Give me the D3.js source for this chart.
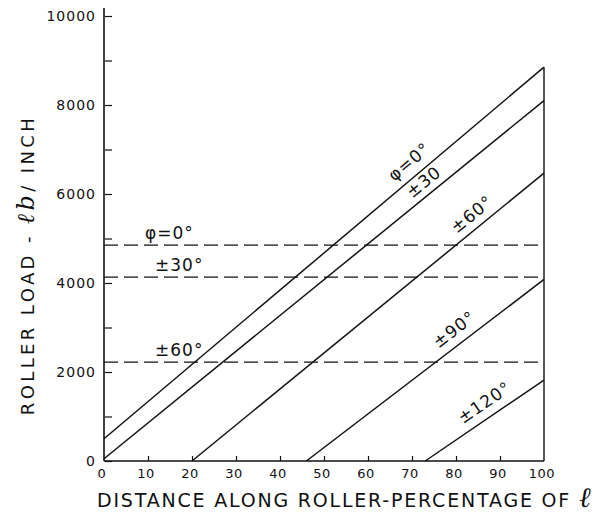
<!DOCTYPE html>
<html>
<head>
<meta charset="utf-8">
<script src="https://cdn.jsdelivr.net/npm/d3@7/dist/d3.min.js"></script>
<style>
  html, body { margin: 0; padding: 0; background: #fff; }
  svg { display: block; }
  text { font-family: "DejaVu Sans", "Liberation Sans", sans-serif; fill: #111; }
</style>
</head>
<body>
<svg id="chart" width="600" height="517"></svg>
<script>
// Roller load distribution along the roller for several phase angles
const xTicks = [0, 10, 20, 30, 40, 50, 60, 70, 80, 90, 100];
const yTicks = [0, 2000, 4000, 6000, 8000, 10000];
const yMinorTicks = [1000, 3000, 5000, 7000, 9000];

// Solid lines: linear load, from a start point to the end of the roller
const lineLabels = ["φ=0°", "±30", "±60°", "±90°", "±120°"];
const lineStartPct = [0, 0, 20, 46, 73];
const lineStartLoad = [500, 50, 0, 0, 0];
const lineEndLoad = [8850, 8100, 6470, 4080, 1820];

// Dashed lines: uniform load for each phase angle
const flatLabels = ["φ=0°", "±30°", "±60°"];
const flatLoads = [4850, 4130, 2220];

const svg = d3.select("#chart");
const x = d3.scaleLinear().domain([0, 100]).range([104, 544]);
const y = d3.scaleLinear().domain([0, 10000]).range([461, 16]);

const ink = "#111";

// Axes
const xAxis = d3.axisBottom(x).tickValues(xTicks.slice(1, -1)).tickSize(-5).tickFormat("");
svg.append("g").attr("transform", `translate(0,${y(0)})`).call(xAxis)
  .call(g => g.select(".domain").remove())
  .call(g => g.selectAll("line").attr("stroke", ink).attr("stroke-width", 1.2));

svg.append("line").attr("x1", x(0)).attr("x2", x(100)).attr("y1", y(0)).attr("y2", y(0))
  .attr("stroke", ink).attr("stroke-width", 1.6);
svg.append("line").attr("x1", x(0)).attr("x2", x(0)).attr("y1", y(0)).attr("y2", y(10000) - 8)
  .attr("stroke", ink).attr("stroke-width", 1.6);
svg.append("line").attr("x1", x(100)).attr("x2", x(100)).attr("y1", y(0)).attr("y2", y(lineEndLoad[0]))
  .attr("stroke", ink).attr("stroke-width", 1.4);

const yAxis = d3.axisLeft(y).tickValues(yTicks.concat(yMinorTicks)).tickSize(-7).tickFormat("");
svg.append("g").attr("transform", `translate(${x(0) + 1},0)`).call(yAxis)
  .call(g => g.select(".domain").remove())
  .call(g => g.selectAll("line").attr("stroke", ink).attr("stroke-width", 1.2));

// Tick labels
svg.append("g").selectAll("text").data(yTicks).join("text")
  .attr("x", 96).attr("y", d => y(d)).attr("dy", "0.36em")
  .attr("text-anchor", "end").attr("font-size", 14).attr("letter-spacing", 1)
  .text(d => d);

svg.append("g").selectAll("text").data(xTicks).join("text")
  .attr("x", d => x(d) - 2).attr("y", 478)
  .attr("text-anchor", "middle").attr("font-size", 13).attr("letter-spacing", 0.5)
  .text(d => d);

// Axis titles
svg.append("text")
  .attr("transform", `translate(34,265) rotate(-90)`)
  .attr("text-anchor", "middle").attr("font-size", 18).attr("letter-spacing", 3.4)
  .attr("font-family", "Liberation Sans, sans-serif")
  .html('ROLLER LOAD - <tspan font-family="DejaVu Serif" font-style="italic" font-size="24">ℓb</tspan>/ INCH');

svg.append("text")
  .attr("x", 97).attr("y", 507)
  .attr("font-size", 19).attr("letter-spacing", 1.8)
  .attr("font-family", "Liberation Sans, sans-serif")
  .html('DISTANCE ALONG ROLLER-PERCENTAGE OF <tspan font-family="DejaVu Serif" font-style="italic" font-size="28" letter-spacing="0">ℓ</tspan>');

// Uniform-load dashed lines
svg.append("g").selectAll("line").data(flatLoads).join("line")
  .attr("x1", x(0)).attr("x2", x(100))
  .attr("y1", d => y(d)).attr("y2", d => y(d))
  .attr("stroke", ink).attr("stroke-width", 1.2)
  .attr("stroke-dasharray", "14,6");

const flatLabelX = [145, 155, 155];
svg.append("g").selectAll("text").data(flatLabels).join("text")
  .attr("x", (d, i) => flatLabelX[i]).attr("y", (d, i) => y(flatLoads[i]) - 6)
  .attr("font-size", 17).attr("letter-spacing", 1)
  .text(d => d);

// Linear-load solid lines
const lines = lineLabels.map((label, i) => ({
  label,
  p0: [x(lineStartPct[i]), y(lineStartLoad[i])],
  p1: [x(100), y(lineEndLoad[i])]
}));

svg.append("g").selectAll("line").data(lines).join("line")
  .attr("x1", d => d.p0[0]).attr("y1", d => d.p0[1])
  .attr("x2", d => d.p1[0]).attr("y2", d => d.p1[1])
  .attr("stroke", ink).attr("stroke-width", 1.5);

// Labels set along each solid line
const labelAt = [0.715, 0.745, 0.82, 0.66, 0.57];
const labelOffset = [9, 7, 8, 9, 9];
svg.append("g").selectAll("text").data(lines).join("text")
  .attr("transform", (d, i) => {
    const t = labelAt[i];
    const px = d.p0[0] + (d.p1[0] - d.p0[0]) * t;
    const py = d.p0[1] + (d.p1[1] - d.p0[1]) * t;
    const ang = Math.atan2(d.p1[1] - d.p0[1], d.p1[0] - d.p0[0]);
    const ox = Math.sin(ang) * labelOffset[i];
    const oy = -Math.cos(ang) * labelOffset[i];
    return `translate(${px + ox},${py + oy}) rotate(${ang * 180 / Math.PI})`;
  })
  .attr("text-anchor", "middle").attr("font-size", 17).attr("letter-spacing", 1)
  .text(d => d.label);
</script>
</body>
</html>
